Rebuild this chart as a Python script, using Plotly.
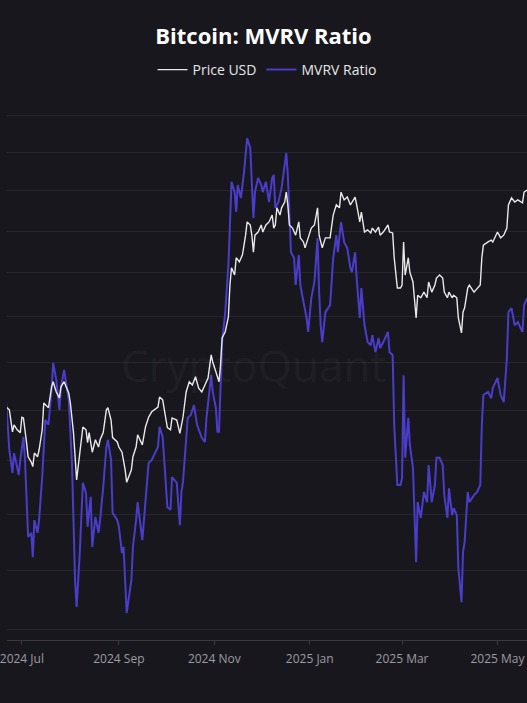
import plotly.graph_objects as go

# ---- Data ----
price_dates = [
    "2024-06-21", "2024-06-23", "2024-06-25", "2024-06-26", "2024-06-28", "2024-06-30",
    "2024-07-01", "2024-07-02", "2024-07-04", "2024-07-05", "2024-07-07", "2024-07-08",
    "2024-07-09", "2024-07-11", "2024-07-12", "2024-07-14", "2024-07-15", "2024-07-18",
    "2024-07-20", "2024-07-21", "2024-07-23", "2024-07-25", "2024-07-26", "2024-07-28",
    "2024-07-31", "2024-08-01", "2024-08-03", "2024-08-04", "2024-08-05", "2024-08-06",
    "2024-08-09", "2024-08-11", "2024-08-12", "2024-08-13", "2024-08-15", "2024-08-17",
    "2024-08-19", "2024-08-20", "2024-08-22", "2024-08-24", "2024-08-25", "2024-08-27",
    "2024-08-28", "2024-08-31", "2024-09-01", "2024-09-03", "2024-09-04", "2024-09-05",
    "2024-09-06", "2024-09-09", "2024-09-10", "2024-09-12", "2024-09-13", "2024-09-16",
    "2024-09-18", "2024-09-20", "2024-09-22", "2024-09-24", "2024-09-26", "2024-09-27",
    "2024-09-29", "2024-10-02", "2024-10-04", "2024-10-05", "2024-10-08", "2024-10-10",
    "2024-10-12", "2024-10-14", "2024-10-16", "2024-10-18", "2024-10-20", "2024-10-22",
    "2024-10-24", "2024-10-26", "2024-10-28", "2024-10-30", "2024-10-31", "2024-11-02",
    "2024-11-04", "2024-11-05", "2024-11-06", "2024-11-08", "2024-11-10", "2024-11-11",
    "2024-11-12", "2024-11-14", "2024-11-15", "2024-11-17", "2024-11-19", "2024-11-21",
    "2024-11-22", "2024-11-24", "2024-11-25", "2024-11-26", "2024-11-27", "2024-11-29",
    "2024-12-01", "2024-12-02", "2024-12-04", "2024-12-06", "2024-12-08", "2024-12-09",
    "2024-12-10", "2024-12-11", "2024-12-13", "2024-12-14", "2024-12-16", "2024-12-17",
    "2024-12-18", "2024-12-19", "2024-12-21", "2024-12-23", "2024-12-25", "2024-12-26",
    "2024-12-28", "2024-12-29", "2024-12-31", "2025-01-02", "2025-01-04", "2025-01-06",
    "2025-01-07", "2025-01-09", "2025-01-11", "2025-01-14", "2025-01-16", "2025-01-18",
    "2025-01-20", "2025-01-21", "2025-01-23", "2025-01-25", "2025-01-27", "2025-01-28",
    "2025-01-30", "2025-01-31", "2025-02-02", "2025-02-03", "2025-02-05", "2025-02-07",
    "2025-02-09", "2025-02-10", "2025-02-12", "2025-02-14", "2025-02-15", "2025-02-17",
    "2025-02-20", "2025-02-21", "2025-02-23", "2025-02-24", "2025-02-26", "2025-02-28",
    "2025-03-01", "2025-03-02", "2025-03-03", "2025-03-05", "2025-03-06", "2025-03-08",
    "2025-03-10", "2025-03-11", "2025-03-13", "2025-03-15", "2025-03-17", "2025-03-18",
    "2025-03-20", "2025-03-22", "2025-03-23", "2025-03-25", "2025-03-27", "2025-03-28",
    "2025-03-30", "2025-03-31", "2025-04-02", "2025-04-03", "2025-04-05", "2025-04-06",
    "2025-04-08", "2025-04-09", "2025-04-10", "2025-04-12", "2025-04-13", "2025-04-16",
    "2025-04-18", "2025-04-20", "2025-04-21", "2025-04-22", "2025-04-25", "2025-04-27",
    "2025-04-28", "2025-05-01", "2025-05-03", "2025-05-05", "2025-05-07", "2025-05-08",
    "2025-05-10", "2025-05-12", "2025-05-14", "2025-05-17", "2025-05-18", "2025-05-20",
]
price_usd = [
    63900, 63500, 60300, 61300, 60600, 60200,
    62400, 62300, 58800, 56900, 56200, 55600,
    57400, 56900, 57800, 60600, 64500, 63800,
    67000, 67800, 66200, 65300, 67000, 67800,
    66000, 64500, 60200, 56500, 53900, 55600,
    61000, 60600, 58800, 60200, 57500, 59200,
    58200, 59200, 60200, 63500, 63800, 62000,
    59500, 58900, 58200, 57500, 56500, 55200,
    53600, 55200, 56900, 58200, 59900, 58500,
    61000, 62400, 63200, 63500, 63900, 65400,
    65000, 60900, 60600, 62300, 62000, 60100,
    62400, 66200, 67800, 67300, 68600, 66800,
    66200, 67300, 68400, 72200, 71000, 69400,
    67800, 70500, 75100, 76200, 78900, 85000,
    88500, 87000, 90600, 89700, 91200, 95500,
    98500, 97800, 95500, 91800, 95500, 96200,
    97800, 96200, 97800, 98500, 100100, 97100,
    97800, 101800, 100100, 101800, 103200, 105600,
    102500, 97800, 97100, 95500, 98500, 94900,
    94000, 92700, 94900, 97100, 97800, 101800,
    95500, 92700, 94900, 94900, 100100, 102500,
    101800, 105600, 103700, 104400, 102500, 103200,
    104400, 102500, 98500, 100800, 96200, 96700,
    96000, 97100, 96200, 97300, 95500, 96200,
    97800, 96200, 96000, 90600, 84400, 84400,
    85000, 94000, 87000, 90600, 87600, 85600,
    78700, 83000, 82500, 83600, 82500, 85600,
    83600, 85000, 86400, 87000, 86400, 83600,
    82500, 83600, 82500, 83000, 82500, 78700,
    76000, 79800, 80600, 84400, 85000, 83600,
    84400, 85000, 90600, 93300, 94000, 94400,
    94000, 96200, 94900, 95500, 97100, 102500,
    104200, 103200, 103700, 103000, 105600, 106100,
]

mvrv_dates = [
    "2024-06-21", "2024-06-23", "2024-06-25", "2024-06-26", "2024-06-28", "2024-06-29",
    "2024-06-30", "2024-07-02", "2024-07-03", "2024-07-04", "2024-07-05", "2024-07-07",
    "2024-07-08", "2024-07-09", "2024-07-11", "2024-07-12", "2024-07-14", "2024-07-16",
    "2024-07-18", "2024-07-20", "2024-07-21", "2024-07-23", "2024-07-25", "2024-07-26",
    "2024-07-28", "2024-07-31", "2024-08-01", "2024-08-02", "2024-08-03", "2024-08-04",
    "2024-08-05", "2024-08-07", "2024-08-09", "2024-08-11", "2024-08-12", "2024-08-14",
    "2024-08-15", "2024-08-17", "2024-08-19", "2024-08-20", "2024-08-22", "2024-08-24",
    "2024-08-25", "2024-08-27", "2024-08-28", "2024-08-31", "2024-09-01", "2024-09-03",
    "2024-09-04", "2024-09-05", "2024-09-06", "2024-09-09", "2024-09-10", "2024-09-12",
    "2024-09-13", "2024-09-16", "2024-09-18", "2024-09-20", "2024-09-22", "2024-09-24",
    "2024-09-26", "2024-09-27", "2024-09-29", "2024-10-02", "2024-10-04", "2024-10-05",
    "2024-10-08", "2024-10-10", "2024-10-11", "2024-10-12", "2024-10-14", "2024-10-15",
    "2024-10-17", "2024-10-19", "2024-10-21", "2024-10-24", "2024-10-26", "2024-10-27",
    "2024-10-30", "2024-10-31", "2024-11-02", "2024-11-03", "2024-11-04", "2024-11-05",
    "2024-11-06", "2024-11-08", "2024-11-10", "2024-11-11", "2024-11-12", "2024-11-14",
    "2024-11-15", "2024-11-16", "2024-11-18", "2024-11-20", "2024-11-21", "2024-11-22",
    "2024-11-24", "2024-11-25", "2024-11-26", "2024-11-27", "2024-11-29", "2024-12-01",
    "2024-12-02", "2024-12-04", "2024-12-06", "2024-12-08", "2024-12-09", "2024-12-10",
    "2024-12-12", "2024-12-14", "2024-12-16", "2024-12-17", "2024-12-18", "2024-12-19",
    "2024-12-20", "2024-12-22", "2024-12-23", "2024-12-25", "2024-12-26", "2024-12-28",
    "2024-12-30", "2024-12-31", "2025-01-02", "2025-01-04", "2025-01-06", "2025-01-07",
    "2025-01-08", "2025-01-09", "2025-01-11", "2025-01-14", "2025-01-16", "2025-01-18",
    "2025-01-19", "2025-01-21", "2025-01-23", "2025-01-25", "2025-01-27", "2025-01-28",
    "2025-01-30", "2025-01-31", "2025-02-02", "2025-02-03", "2025-02-05", "2025-02-07",
    "2025-02-09", "2025-02-10", "2025-02-12", "2025-02-14", "2025-02-15", "2025-02-17",
    "2025-02-20", "2025-02-21", "2025-02-23", "2025-02-24", "2025-02-26", "2025-02-28",
    "2025-03-01", "2025-03-02", "2025-03-03", "2025-03-05", "2025-03-06", "2025-03-08",
    "2025-03-10", "2025-03-11", "2025-03-13", "2025-03-15", "2025-03-17", "2025-03-18",
    "2025-03-20", "2025-03-22", "2025-03-23", "2025-03-25", "2025-03-27", "2025-03-28",
    "2025-03-30", "2025-03-31", "2025-04-02", "2025-04-03", "2025-04-05", "2025-04-06",
    "2025-04-08", "2025-04-09", "2025-04-10", "2025-04-12", "2025-04-13", "2025-04-16",
    "2025-04-18", "2025-04-20", "2025-04-21", "2025-04-22", "2025-04-25", "2025-04-27",
    "2025-04-28", "2025-05-01", "2025-05-03", "2025-05-05", "2025-05-07", "2025-05-08",
    "2025-05-10", "2025-05-12", "2025-05-14", "2025-05-17", "2025-05-18", "2025-05-20",
]
mvrv_ratio = [
    2.015, 1.921, 1.877, 1.915, 1.888, 1.873,
    1.902, 1.947, 1.902, 1.813, 1.759, 1.766,
    1.723, 1.789, 1.766, 1.789, 1.869, 1.981,
    1.971, 2.042, 2.099, 2.063, 2.001, 2.048,
    2.084, 2.021, 1.967, 1.896, 1.789, 1.683,
    1.638, 1.730, 1.858, 1.839, 1.777, 1.832,
    1.741, 1.795, 1.766, 1.789, 1.850, 1.927,
    1.941, 1.902, 1.802, 1.789, 1.777, 1.730,
    1.741, 1.671, 1.628, 1.683, 1.741, 1.789,
    1.822, 1.753, 1.832, 1.896, 1.902, 1.915,
    1.927, 1.967, 1.947, 1.813, 1.808, 1.869,
    1.858, 1.780, 1.841, 1.860, 1.945, 1.985,
    1.991, 2.011, 1.971, 1.945, 1.937, 1.985,
    2.073, 2.038, 2.005, 1.957, 1.957, 2.052,
    2.144, 2.210, 2.318, 2.415, 2.523, 2.497,
    2.447, 2.515, 2.482, 2.548, 2.601, 2.638,
    2.611, 2.533, 2.432, 2.497, 2.533, 2.515,
    2.497, 2.523, 2.472, 2.533, 2.541, 2.457,
    2.472, 2.507, 2.575, 2.598, 2.541, 2.432,
    2.349, 2.335, 2.272, 2.342, 2.272, 2.233,
    2.197, 2.166, 2.242, 2.279, 2.383, 2.256,
    2.181, 2.144, 2.210, 2.226, 2.335, 2.390,
    2.349, 2.422, 2.373, 2.359, 2.311, 2.302,
    2.349, 2.288, 2.197, 2.265, 2.181, 2.144,
    2.137, 2.159, 2.122, 2.153, 2.131, 2.144,
    2.166, 2.122, 2.116, 1.971, 1.854, 1.854,
    1.867, 2.073, 1.906, 1.985, 1.931, 1.886,
    1.714, 1.822, 1.793, 1.841, 1.822, 1.892,
    1.822, 1.854, 1.906, 1.906, 1.892, 1.835,
    1.793, 1.848, 1.798, 1.811, 1.798, 1.704,
    1.646, 1.732, 1.750, 1.841, 1.822, 1.835,
    1.841, 1.854, 1.971, 2.032, 2.038, 2.025,
    2.046, 2.067, 2.032, 2.017, 2.109, 2.210,
    2.219, 2.181, 2.188, 2.166, 2.226, 2.242,
]

mvrv_grid_values = [1.6, 1.7, 1.8, 1.9, 2.0, 2.1, 2.2, 2.3, 2.4, 2.5, 2.6, 2.7]

# ---- Styling ----
BG = "#18171d"
GRID = "#27262d"
PRICE_COLOR = "#e9e9ec"
MVRV_COLOR = "#4b3cc9"
FONT = "Open Sans"

fig = go.Figure()

fig.add_trace(go.Scatter(
    x=price_dates, y=price_usd, name="Price USD", mode="lines",
    line=dict(color=PRICE_COLOR, width=1.4), yaxis="y2",
))
fig.add_trace(go.Scatter(
    x=mvrv_dates, y=mvrv_ratio, name="MVRV Ratio", mode="lines",
    line=dict(color=MVRV_COLOR, width=2), yaxis="y",
))

fig.add_annotation(
    text="CryptoQuant", xref="paper", yref="paper", x=0.474, y=0.51,
    showarrow=False, font=dict(family=FONT, size=44, color="rgba(255,255,255,0.055)"),
)

fig.update_layout(
    width=527, height=703,
    margin=dict(l=0, r=0, t=100, b=63),
    paper_bgcolor=BG, plot_bgcolor=BG,
    font=dict(family=FONT, color="#e6e6e6"),
    title=dict(
        text="<b>Bitcoin: MVRV Ratio</b>", x=0.5, xanchor="center",
        y=1 - 36 / 703, yanchor="middle", yref="container",
        font=dict(family=FONT, size=22, color="#ffffff"),
    ),
    showlegend=True,
    legend=dict(
        orientation="h", x=0.5, xanchor="center", y=(640 - 70) / 540, yanchor="middle",
        font=dict(family=FONT, size=14, color="#e6e6e6"), bgcolor="rgba(0,0,0,0)",
        itemwidth=30,
    ),
    xaxis=dict(
        type="date", range=["2024-06-21 12:00", "2025-05-19 21:00"],
        tick0="2024-07-01", dtick="M2", tickformat="%Y %b",
        showgrid=False, zeroline=False,
        showline=True, linecolor="#3a3940", linewidth=1,
        ticks="outside", ticklen=4, tickcolor="#3a3940",
        ticklabelstandoff=4, ticklabeloverflow="allow",
        tickfont=dict(family=FONT, size=12, color="#9c9ca2"),
    ),
    yaxis=dict(
        type="log", range=[0.19970, 0.43807],
        tickmode="array", tickvals=mvrv_grid_values,
        showticklabels=False, ticks="", showline=False, zeroline=False,
        showgrid=True, gridcolor=GRID, gridwidth=1,
    ),
    yaxis2=dict(
        type="log", range=[4.5691, 5.1172], overlaying="y", side="right",
        showticklabels=False, ticks="", showline=False, zeroline=False, showgrid=False,
    ),
)

fig.write_html(
    "out.html",
    config={"displayModeBar": False},
    post_script="document.body.style.margin='0';document.body.style.background='#18171d';",
)
